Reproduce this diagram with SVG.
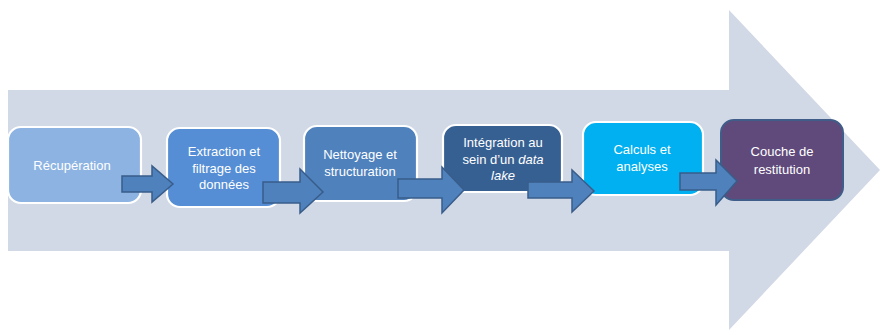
<svg xmlns="http://www.w3.org/2000/svg" width="880" height="331" viewBox="0 0 880 331">
  <style>
    .box { stroke: #ffffff; stroke-width: 2.2; }
    .lbl { font-family: "Liberation Sans", Arial, sans-serif; font-size: 13px; fill: #ffffff; text-anchor: middle; }
    .conn { fill: #4f81bd; stroke: #385d8a; stroke-width: 1.5; stroke-linejoin: miter; }
  </style>
  <rect width="880" height="331" fill="#ffffff"/>
  <g id="background-arrow">
    <polygon points="8,90 729,90 729,10 880,170 729,330 729,251 8,251" fill="#d1d8e6"/>
  </g>
  <g id="node-recuperation">
    <rect class="box" x="8" y="127" width="133" height="76" rx="13" fill="#8db3e2"/>
    <text class="lbl" x="72" y="170">Récupération</text>
  </g>
  <g id="node-extraction">
    <rect class="box" x="167" y="128" width="113" height="79" rx="13" fill="#558ed5"/>
    <text class="lbl" x="224" y="156">Extraction et</text>
    <text class="lbl" x="224" y="172.5">filtrage des</text>
    <text class="lbl" x="224" y="189">données</text>
  </g>
  <g id="node-nettoyage">
    <rect class="box" x="304" y="126" width="113" height="75" rx="13" fill="#4f81bd"/>
    <text class="lbl" x="360" y="159">Nettoyage et</text>
    <text class="lbl" x="360" y="176">structuration</text>
  </g>
  <g id="node-integration">
    <rect class="box" x="443" y="125" width="119" height="67" rx="13" fill="#376092"/>
    <text class="lbl" x="503" y="147">Intégration au</text>
    <text class="lbl" x="503" y="163.5">sein d’un <tspan font-style="italic">data</tspan></text>
    <text class="lbl" x="503" y="180" font-style="italic">lake</text>
  </g>
  <g id="node-calculs">
    <rect class="box" x="583" y="122" width="120" height="73" rx="13" fill="#00b0f0"/>
    <text class="lbl" x="642" y="154">Calculs et</text>
    <text class="lbl" x="642" y="170.5">analyses</text>
  </g>
  <g id="node-restitution">
    <rect x="721" y="120" width="122" height="80" rx="13" fill="#604a7b" stroke="#3f5d88" stroke-width="2"/>
    <text class="lbl" x="782" y="156">Couche de</text>
    <text class="lbl" x="782" y="174">restitution</text>
  </g>
  <g id="connectors">
    <polygon class="conn" points="122,176 152,176 152,166 173,184 152,202 152,192 122,192"/>
    <polygon class="conn" points="263,182 300,182 300,169 323,192 300,213 300,203 263,203"/>
    <polygon class="conn" points="398,179 442,179 442,167 464,190 442,213 442,198 398,198"/>
    <polygon class="conn" points="528,182 572,182 572,170 594,191 572,212 572,198 528,198"/>
    <polygon class="conn" points="680,173 716,173 716,160 737,181 716,205 716,190 680,190"/>
  </g>
</svg>
